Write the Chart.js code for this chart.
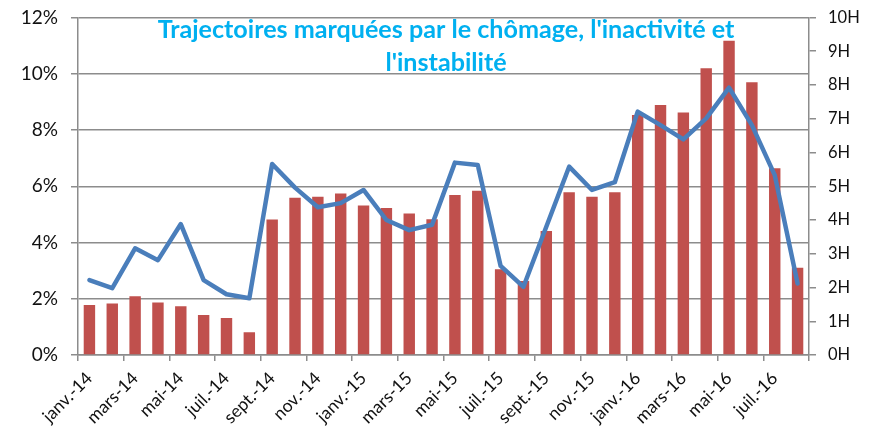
<!DOCTYPE html>
<html>
<head>
<meta charset="utf-8">
<script src="https://cdn.jsdelivr.net/npm/chart.js@4/dist/chart.umd.min.js"></script>
<style>
  html, body { margin: 0; padding: 0; background: #fff; }
  #wrap { width: 869px; height: 430px; position: relative; }
</style>
</head>
<body>
<div id="wrap"><canvas id="c" width="869" height="430"></canvas></div>
<script>
const months = ['janv.-14','févr.-14','mars-14','avr.-14','mai-14','juin-14','juil.-14','août-14','sept.-14','oct.-14','nov.-14','déc.-14',
  'janv.-15','févr.-15','mars-15','avr.-15','mai-15','juin-15','juil.-15','août-15','sept.-15','oct.-15','nov.-15','déc.-15',
  'janv.-16','févr.-16','mars-16','avr.-16','mai-16','juin-16','juil.-16','août-16'];
const barValues = [1.78,1.83,2.09,1.87,1.73,1.42,1.32,0.81,4.82,5.59,5.63,5.74,5.32,5.23,5.03,4.83,5.69,5.84,3.05,2.63,4.41,5.79,5.63,5.79,8.53,8.89,8.62,10.2,11.17,9.70,6.64,3.10];
const lineValues = [2.22,1.98,3.16,2.81,3.88,2.22,1.80,1.68,5.66,4.96,4.38,4.50,4.89,4.00,3.70,3.86,5.70,5.63,2.64,2.02,3.80,5.58,4.89,5.12,7.21,6.81,6.39,7.01,7.92,6.81,5.33,2.12];
const titleLines = ["Trajectoires marquées par le chômage, l'inactivité et", "l'instabilité"];
const leftTicks = [0,2,4,6,8,10,12];
const rightTicks = [0,1,2,3,4,5,6,7,8,9,10];

const GRID = '#8c8c8c';
const TXT = '#111111';

const titlePlugin = {
  id: 'insideTitle',
  afterDatasetsDraw(chart) {
    const ctx = chart.ctx;
    ctx.save();
    ctx.fillStyle = '#00B0F0';
    ctx.textAlign = 'center';
    ctx.textBaseline = 'alphabetic';
    let size = 24;
    ctx.font = 'bold ' + size + 'px Lato';
    const w = ctx.measureText(titleLines[0]).width;
    size = size * 577 / w;
    ctx.font = 'bold ' + size.toFixed(2) + 'px Lato';
    const cx = 446;
    ctx.fillText(titleLines[0], cx, 38);
    ctx.fillText(titleLines[1], cx, 71);
    ctx.restore();
  }
};

new Chart(document.getElementById('c'), {
  type: 'bar',
  data: {
    labels: months,
    datasets: [
      {
        type: 'line',
        data: lineValues,
        yAxisID: 'y1',
        borderColor: '#4A7EBB',
        borderWidth: 4.5,
        pointRadius: 0,
        tension: 0,
        order: 0,
        borderJoinStyle: 'round',
        borderCapStyle: 'round'
      },
      {
        type: 'bar',
        data: barValues,
        yAxisID: 'y',
        backgroundColor: '#C0504D',
        borderWidth: 0,
        barPercentage: 1,
        categoryPercentage: 0.5,
        order: 1
      }
    ]
  },
  options: {
    responsive: false,
    animation: false,
    layout: { padding: { top: 17.5, left: 0, right: 0, bottom: 0 } },
    plugins: { legend: { display: false }, tooltip: { enabled: false }, title: { display: false } },
    scales: {
      x: {
        offset: true,
        grid: {
          offset: true,
          drawOnChartArea: false,
          drawTicks: true,
          tickLength: 6,
          lineWidth: 1.5,
          color: (c) => (c.index === undefined || c.index % 2 === 0) ? GRID : 'rgba(0,0,0,0)'
        },
        border: { display: true, color: GRID, width: 1.5 },
        ticks: {
          autoSkip: false,
          maxRotation: 45,
          minRotation: 45,
          padding: 7,
          color: TXT,
          font: { family: 'Lato', size: 17.5 },
          callback: function(v, i) { return i % 2 === 0 ? months[i] : ''; }
        },
        afterFit: (s) => { s.height = 75; s.paddingLeft = 0; s.paddingRight = 0; }
      },
      y: {
        position: 'left',
        min: 0,
        max: 12,
        afterBuildTicks: (s) => { s.ticks = leftTicks.map(v => ({ value: v })); },
        grid: { color: GRID, lineWidth: 1.5, drawTicks: true, tickLength: 7 },
        border: { display: true, color: GRID, width: 1.5 },
        ticks: {
          padding: 13,
          color: TXT,
          font: { family: 'Lato', size: 19 },
          callback: (v) => v + '%'
        },
        afterFit: (s) => { s.width = 78; s.paddingTop = 0; s.paddingBottom = 0; }
      },
      y1: {
        position: 'right',
        min: 0,
        max: 10,
        afterBuildTicks: (s) => { s.ticks = rightTicks.map(v => ({ value: v })); },
        grid: { drawOnChartArea: false, color: GRID, lineWidth: 1.5, drawTicks: true, tickLength: 7 },
        border: { display: true, color: GRID, width: 1.5 },
        ticks: {
          padding: 12,
          color: TXT,
          font: { family: 'Lato', size: 16.5 },
          callback: (v) => v + 'H'
        },
        afterFit: (s) => { s.width = 60; s.paddingTop = 0; s.paddingBottom = 0; }
      }
    }
  },
  plugins: [titlePlugin]
});
</script>
</body>
</html>
